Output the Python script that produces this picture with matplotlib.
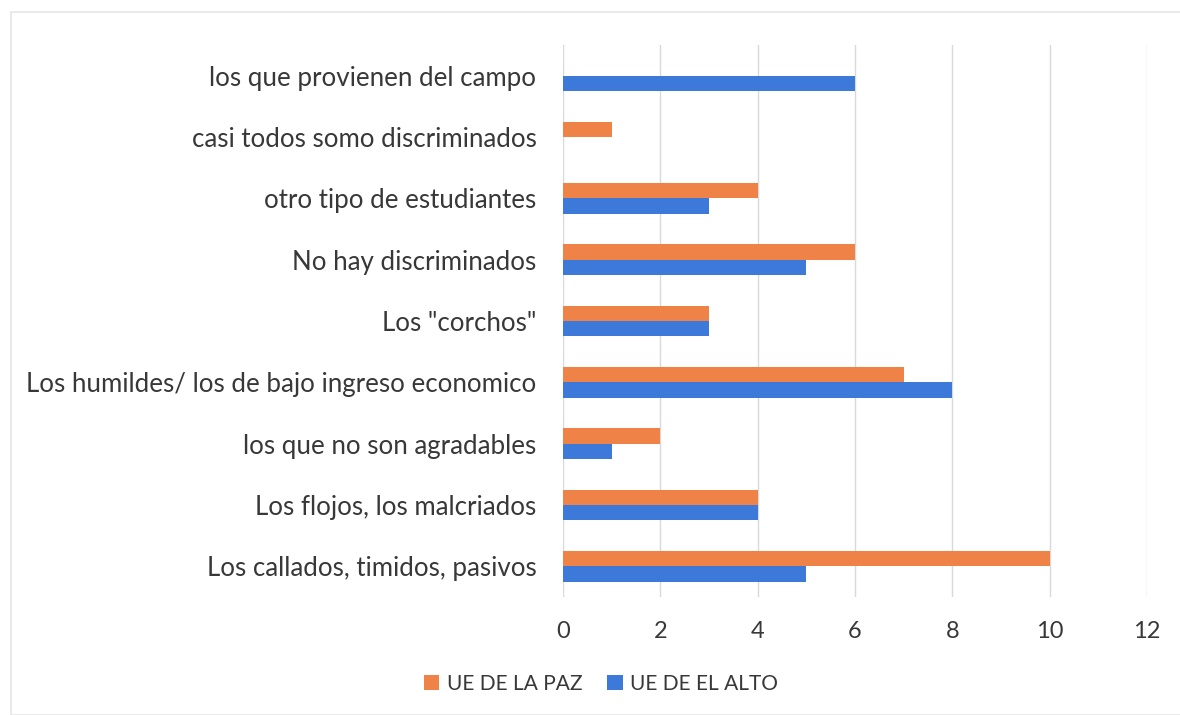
import numpy as np
import matplotlib.pyplot as plt
from matplotlib.patches import Rectangle

#%% data (bottom to top)
categorias = ['Los callados, timidos, pasivos',
              'Los flojos, los malcriados',
              'los que no son agradables',
              'Los humildes/ los de bajo ingreso economico',
              'Los "corchos"',
              'No hay discriminados',
              'otro tipo de estudiantes',
              'casi todos somo discriminados',
              'los que provienen del campo']
la_paz = [10, 4, 2, 7, 3, 6, 4, 1, 0]
el_alto = [5, 4, 1, 8, 3, 5, 3, 0, 6]

naranja = '#ef8347'
azul = '#3c79d8'
gris = '#383838'

plt.rcParams['font.family'] = ['Lato', 'DejaVu Sans']

fig = plt.figure(figsize=(11.8, 7.15), dpi=100)
ax = fig.add_axes([0.477, 0.165, 0.495, 0.772])

y = np.arange(len(categorias))
h = 0.25
ax.barh(y + h / 2, la_paz, height=h, color=naranja, label='UE DE LA PAZ')
ax.barh(y - h / 2, el_alto, height=h, color=azul, label='UE DE EL ALTO')

ax.set_xlim(0, 12)
ax.set_ylim(-0.5, len(categorias) - 0.5)
ax.set_xticks(np.arange(0, 13, 2))
ax.set_yticks(y)
ax.set_yticklabels(categorias, fontsize=18.6, color=gris)
ax.tick_params(axis='x', labelsize=17, colors=gris, length=0, pad=17)
ax.tick_params(axis='y', length=0, pad=19)
ax.grid(axis='x', color='#d9d9d9', linewidth=1)
ax.set_axisbelow(True)
for s in ax.spines.values():
    s.set_visible(False)

ax.legend(loc='upper center', bbox_to_anchor=((601 / 1180 - 0.477) / 0.495, -0.105),
          ncol=2, frameon=False, fontsize=15, labelcolor=gris,
          handlelength=0.75, handleheight=0.75, handletextpad=0.35, columnspacing=1.2)

# marco del grafico
fig.patches.append(Rectangle((0.009, 0.0), 1.2, 0.983, transform=fig.transFigure,
                             fill=False, edgecolor='#e6e6e6', linewidth=1.2))

plt.savefig('out.png', dpi=100)
